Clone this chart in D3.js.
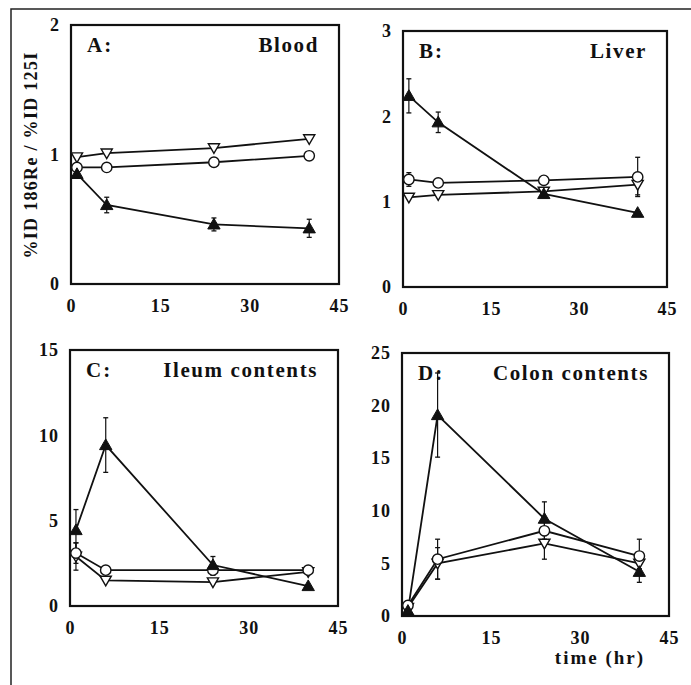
<!DOCTYPE html>
<html>
<head>
<meta charset="utf-8">
<script src="https://cdn.jsdelivr.net/npm/d3@7"></script>
<style>
  html, body { margin: 0; padding: 0; background: #fff; }
  svg text { font-family: "Liberation Serif", "Times New Roman", serif; font-weight: bold; fill: #111; }
</style>
</head>
<body>
<div id="chart"></div>
<script>
// sampling times (hr) and axis ticks
const hours = [1, 6, 24, 40];
const xTicks = [0, 15, 30, 45];

// A: Blood
const bloodFilled = [0.85, 0.61, 0.46, 0.43];
const bloodFilledErr = [0.03, 0.06, 0.05, 0.07];
const bloodCircle = [0.90, 0.90, 0.94, 0.99];
const bloodCircleErr = [0, 0, 0, 0];
const bloodTriDown = [0.98, 1.01, 1.05, 1.12];
const bloodTriDownErr = [0, 0, 0, 0];

// B: Liver
const liverFilled = [2.24, 1.93, 1.09, 0.87];
const liverFilledErr = [0.20, 0.12, 0.04, 0];
const liverCircle = [1.26, 1.22, 1.25, 1.29];
const liverCircleErr = [0.08, 0, 0, 0.23];
const liverTriDown = [1.05, 1.08, 1.12, 1.20];
const liverTriDownErr = [0, 0, 0.04, 0.12];

// C: Ileum contents
const ileumFilled = [4.45, 9.43, 2.4, 1.17];
const ileumFilledErr = [1.2, 1.6, 0.5, 0];
const ileumCircle = [3.1, 2.1, 2.1, 2.1];
const ileumCircleErr = [0.6, 0, 0.3, 0];
const ileumTriDown = [2.9, 1.5, 1.4, 2.0];
const ileumTriDownErr = [0.8, 0, 0, 0];

// D: Colon contents
const colonFilled = [0.5, 19.1, 9.25, 4.2];
const colonFilledErr = [0.3, 4.0, 1.6, 1.0];
const colonCircle = [1.0, 5.4, 8.1, 5.7];
const colonCircleErr = [0.3, 1.9, 0.8, 1.6];
const colonTriDown = [0.8, 5.0, 6.9, 5.0];
const colonTriDownErr = [0.3, 1.5, 1.5, 0.5];

const yTicksA = [0, 1, 2];
const yTicksB = [0, 1, 2, 3];
const yTicksC = [0, 5, 10, 15];
const yTicksD = [0, 5, 10, 15, 20, 25];

const width = 691, height = 685;

const panels = [
  { letter: 'A:', title: 'Blood', box: [71, 25, 339, 284], yTicks: yTicksA,
    series: [[bloodTriDown, bloodTriDownErr, 'down'], [bloodCircle, bloodCircleErr, 'circle'], [bloodFilled, bloodFilledErr, 'filled']] },
  { letter: 'B:', title: 'Liver', box: [403, 31, 667, 287], yTicks: yTicksB,
    series: [[liverTriDown, liverTriDownErr, 'down'], [liverCircle, liverCircleErr, 'circle'], [liverFilled, liverFilledErr, 'filled']] },
  { letter: 'C:', title: 'Ileum contents', box: [70, 350, 338, 606], yTicks: yTicksC,
    series: [[ileumTriDown, ileumTriDownErr, 'down'], [ileumCircle, ileumCircleErr, 'circle'], [ileumFilled, ileumFilledErr, 'filled']] },
  { letter: 'D:', title: 'Colon contents', box: [402, 353, 669, 616], yTicks: yTicksD,
    series: [[colonTriDown, colonTriDownErr, 'down'], [colonCircle, colonCircleErr, 'circle'], [colonFilled, colonFilledErr, 'filled']] }
];

const svg = d3.select('#chart').append('svg')
  .attr('width', width)
  .attr('height', height);

// outer frame (top and left only visible)
svg.append('path')
  .attr('d', `M11,${height} L11,9 L${width},9`)
  .attr('fill', 'none')
  .attr('stroke', '#222')
  .attr('stroke-width', 1.5);

const triUp = d3.symbol().type(d3.symbolTriangle).size(66);
const triDown = d3.symbol().type(d3.symbolTriangle).size(54);

panels.forEach(p => {
  const [x0, y0, x1, y1] = p.box;
  const xScale = d3.scaleLinear().domain([0, 45]).range([x0, x1]);
  const yScale = d3.scaleLinear().domain([0, d3.max(p.yTicks)]).range([y1, y0]);

  const g = svg.append('g').attr('class', 'panel');

  // axes: labels only, box drawn separately
  const xAxis = g.append('g')
    .attr('class', 'axis axis-x')
    .attr('transform', `translate(0, ${y1})`)
    .call(d3.axisBottom(xScale).tickValues(xTicks).tickFormat(d3.format('d')).tickSize(0).tickPadding(15));
  const yAxis = g.append('g')
    .attr('class', 'axis axis-y')
    .attr('transform', `translate(${x0}, 0)`)
    .call(d3.axisLeft(yScale).tickValues(p.yTicks).tickFormat(d3.format('d')).tickSize(0).tickPadding(11));
  [xAxis, yAxis].forEach(a => {
    a.select('.domain').remove();
    a.selectAll('text').style('font-size', '18px').style('letter-spacing', '1px');
  });

  g.append('rect')
    .attr('x', x0).attr('y', y0)
    .attr('width', x1 - x0).attr('height', y1 - y0)
    .attr('fill', 'none')
    .attr('stroke', '#111')
    .attr('stroke-width', 2.2);

  const line = d3.line()
    .x((d, i) => xScale(hours[i]))
    .y(d => yScale(d));

  p.series.forEach(([vals]) => {
    g.append('path')
      .datum(vals)
      .attr('d', line)
      .attr('fill', 'none')
      .attr('stroke', '#111')
      .attr('stroke-width', 1.8);
  });

  // error bars
  p.series.forEach(([vals, errs]) => {
    vals.forEach((v, i) => {
      const e = errs[i];
      if (!e) return;
      const cx = xScale(hours[i]);
      const top = yScale(v + e), bot = yScale(Math.max(0, v - e));
      g.append('line').attr('x1', cx).attr('x2', cx).attr('y1', top).attr('y2', bot)
        .attr('stroke', '#111').attr('stroke-width', 1.2);
      [top, bot].forEach(yy => {
        g.append('line').attr('x1', cx - 2.5).attr('x2', cx + 2.5).attr('y1', yy).attr('y2', yy)
          .attr('stroke', '#111').attr('stroke-width', 1.3);
      });
    });
  });

  // markers
  p.series.forEach(([vals, errs, kind]) => {
    const m = g.selectAll(null).data(vals).enter();
    if (kind === 'circle') {
      m.append('circle')
        .attr('cx', (d, i) => xScale(hours[i]))
        .attr('cy', d => yScale(d))
        .attr('r', 5.2)
        .attr('fill', '#fff')
        .attr('stroke', '#111')
        .attr('stroke-width', 1.4);
    } else if (kind === 'down') {
      m.append('path')
        .attr('d', triDown)
        .attr('transform', (d, i) => `translate(${xScale(hours[i])}, ${yScale(d) - 1}) rotate(180)`)
        .attr('fill', '#fff')
        .attr('stroke', '#111')
        .attr('stroke-width', 1.4);
    } else {
      m.append('path')
        .attr('d', triUp)
        .attr('transform', (d, i) => `translate(${xScale(hours[i])}, ${yScale(d) + 1})`)
        .attr('fill', '#111')
        .attr('stroke', '#111')
        .attr('stroke-width', 1);
    }
  });

  // panel titles
  g.append('text')
    .attr('x', x0 + 16).attr('y', y0 + 27)
    .style('font-size', '21px')
    .style('letter-spacing', '2px')
    .text(p.letter);
  g.append('text')
    .attr('x', x1 - 20).attr('y', y0 + 27)
    .attr('text-anchor', 'end')
    .style('font-size', '21px')
    .style('letter-spacing', '1.6px')
    .text(p.title);
});

// axis titles
svg.append('text')
  .attr('transform', 'translate(37, 155) rotate(-90)')
  .attr('text-anchor', 'middle')
  .style('font-size', '18px')
  .style('letter-spacing', '1.3px')
  .text('%ID 186Re  /  %ID 125I');

svg.append('text')
  .attr('x', 600).attr('y', 664)
  .attr('text-anchor', 'middle')
  .style('font-size', '19px')
  .style('letter-spacing', '2px')
  .text('time (hr)');
</script>
</body>
</html>
